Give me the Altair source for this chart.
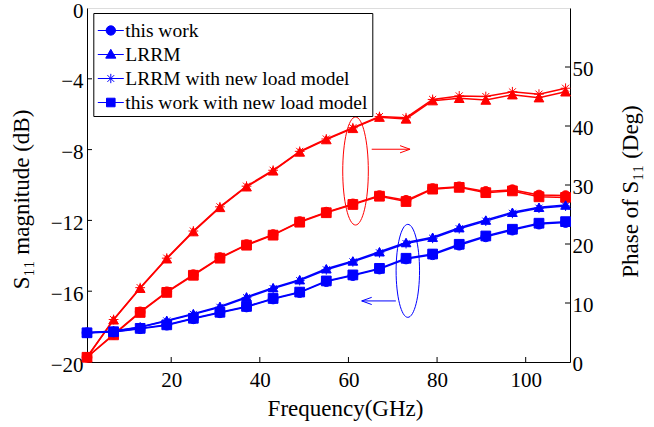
import altair as alt
import pandas as pd

# ---------------- data ----------------
freq = [1, 7, 13, 19, 25, 31, 37, 43, 49, 55, 61, 67, 73, 79, 85, 91, 97, 103, 109]
series_names = ["this work", "LRRM", "LRRM with new load model", "this work with new load model"]

# S11 magnitude (dB) - left axis (blue)
mag_this_work = [-18.35, -18.30, -18.12, -17.92, -17.56, -17.22, -16.89, -16.44, -16.08, -15.46,
                 -15.12, -14.75, -14.18, -13.94, -13.40, -12.93, -12.55, -12.21, -12.12]
mag_lrrm = [-18.35, -18.25, -18.02, -17.65, -17.27, -16.86, -16.32, -15.80, -15.35, -14.73,
            -14.29, -13.77, -13.25, -12.95, -12.41, -11.98, -11.54, -11.26, -11.13]
mag_lrrm_new = [-18.35, -18.26, -18.04, -17.68, -17.31, -16.91, -16.37, -15.85, -15.40, -14.79,
                -14.34, -13.83, -13.31, -13.01, -12.47, -12.04, -11.60, -11.31, -11.19]
mag_this_work_new = [-18.35, -18.29, -18.10, -17.90, -17.53, -17.19, -16.86, -16.41, -16.05, -15.42,
                     -15.08, -14.71, -14.14, -13.90, -13.35, -12.88, -12.50, -12.16, -12.07]

# Phase of S11 (deg) - right axis (red)
ph_this_work = [0.8, 4.7, 8.5, 11.9, 14.8, 17.7, 19.9, 21.6, 23.8, 25.4,
                26.8, 28.2, 27.4, 29.4, 29.7, 28.9, 29.2, 28.3, 28.2]
ph_lrrm = [0.8, 7.15, 12.5, 17.5, 22.1, 26.2, 29.7, 32.4, 35.6, 37.7,
           39.6, 41.5, 41.2, 44.3, 44.7, 44.4, 45.3, 44.8, 45.8]
ph_lrrm_new = [0.8, 7.2, 12.6, 17.6, 22.2, 26.3, 29.8, 32.5, 35.7, 37.8,
               39.7, 41.6, 41.4, 44.5, 45.1, 45.0, 45.8, 45.4, 46.4]
ph_this_work_new = [0.8, 4.6, 8.4, 11.8, 14.7, 17.6, 19.8, 21.5, 23.7, 25.3,
                    26.7, 28.1, 27.2, 29.3, 29.6, 28.7, 29.0, 28.0, 27.9]

x_ticks = [20, 40, 60, 80, 100]
left_ticks = [-20, -16, -12, -8, -4, 0]
right_ticks = [0, 10, 20, 30, 40, 50]

# annotations (data coordinates on the magnitude axis)
ellipse_f = [61.6, 73.4]
ellipse_v = [-9.21, -14.85]
red_arrow_f = [65.25, 73.9]
red_arrow_v = -7.98
blue_arrow_f = [70.7, 63.0]
blue_arrow_v = -16.55

# ---------------- tables ----------------
mag_lists = [mag_this_work, mag_lrrm, mag_lrrm_new, mag_this_work_new]
ph_lists = [ph_this_work, ph_lrrm, ph_lrrm_new, ph_this_work_new]
mag_df = pd.DataFrame([
    {"f": f, "v": v, "series": s, "k": i}
    for i, (s, vals) in enumerate(zip(series_names, mag_lists))
    for f, v in zip(freq, vals)
])
ph_df = pd.DataFrame([
    {"f": f, "p": v, "series": s, "k": i}
    for i, (s, vals) in enumerate(zip(series_names, ph_lists))
    for f, v in zip(freq, vals)
])

FONT = "Liberation Serif"
BLUE = "#0000ff"
RED = "#ff0000"

ASTER = "M -1 0 L 1 0 M 0 -1 L 0 1 M -0.72 -0.72 L 0.72 0.72 M -0.72 0.72 L 0.72 -0.72"
point_shapes = ["circle", "triangle-up", ASTER, "square"]
legend_shapes = [
    "M -1 0 L 1 0 M 0.36 0 A 0.36 0.36 0 1 1 -0.36 0 A 0.36 0.36 0 1 1 0.36 0 Z",
    "M -1 0 L 1 0 M 0 -0.40 L 0.39 0.28 L -0.39 0.28 Z",
    "M -1 0 L 1 0 M 0 -0.36 L 0 0.36 M -0.26 -0.26 L 0.26 0.26 M -0.26 0.26 L 0.26 -0.26",
    "M -1 0 L 1 0 M -0.33 -0.33 L 0.33 -0.33 L 0.33 0.33 L -0.33 0.33 Z",
]

x_scale = alt.Scale(domain=[1, 110], nice=False, zero=False)
x_enc = alt.X("f:Q", scale=x_scale,
              axis=alt.Axis(values=x_ticks, ticks=False, grid=False, title="Frequency(GHz)",
                            labelFont=FONT, labelFontSize=21, labelColor="black", labelPadding=7,
                            titleFont=FONT, titleFontSize=23, titleFontWeight="normal",
                            titleColor="black", titleX=258, titleY=46, titleBaseline="middle",
                            domainColor="black", domainWidth=1))
y_left = alt.Y("v:Q", scale=alt.Scale(domain=[-20, 0], nice=False, zero=False),
               axis=alt.Axis(orient="left", values=left_ticks, ticks=False, grid=False,
                             title="S₁₁ magnitude (dB)", labelFont=FONT, labelFontSize=21,
                             labelColor="black", labelPadding=4, labelOffset=3,
                             titleFont=FONT, titleFontSize=23, titleFontWeight="normal",
                             titleColor="black", titleAngle=270, titleX=-66, titleY=191,
                             titleBaseline="middle", titleAlign="center",
                             domainColor="black", domainWidth=1))
y_right = alt.Y("p:Q", scale=alt.Scale(domain=[0, 60], nice=False, zero=False),
                axis=alt.Axis(orient="right", values=right_ticks, ticks=False, grid=False,
                              title="Phase of S₁₁ (Deg)", labelFont=FONT, labelFontSize=21,
                              labelColor="black", labelPadding=2, labelOffset=2,
                              titleFont=FONT, titleFontSize=23, titleFontWeight="normal",
                              titleColor="black", titleAngle=270, titleX=60, titleY=183,
                              titleBaseline="middle", titleAlign="center",
                              domainColor="black", domainWidth=1))

shape_scale = alt.Scale(domain=series_names, range=point_shapes)

# ---------------- blue (magnitude) group ----------------
blue_lines = alt.Chart(mag_df).mark_line(color=BLUE, strokeWidth=1.5).encode(
    x=x_enc, y=y_left, detail="series:N", order="f:Q")
blue_points = alt.Chart(mag_df).mark_point(filled=True, color=BLUE, stroke=BLUE,
                                           strokeWidth=1, size=95, opacity=1).encode(
    x=x_enc, y=y_left, shape=alt.Shape("series:N", scale=shape_scale, legend=None))

legend_layer = alt.Chart(mag_df).transform_filter("datum.f < -1000").mark_point(
    filled=False, fill=BLUE, fillOpacity=1, stroke=BLUE, strokeOpacity=1, strokeWidth=1,
    size=676, opacity=1).encode(
    x=x_enc, y=y_left,
    shape=alt.Shape("series:N",
                    scale=alt.Scale(domain=series_names, range=legend_shapes),
                    legend=alt.Legend(title=None, orient="none", legendX=6.3, legendY=5,
                                      symbolSize=676, symbolStrokeWidth=1,
                                      labelFont=FONT, labelFontSize=19.5, labelColor="black",
                                      labelOffset=1, labelLimit=500,
                                      strokeColor="black", fillColor="white",
                                      padding=4, rowPadding=1)))

left_tick_df = pd.DataFrame({"v": left_ticks[1:-1]})
left_tick_rules = alt.Chart(left_tick_df).mark_rule(color="black", strokeWidth=1).encode(
    y=y_left, x=alt.value(0), x2=alt.value(5))
x_tick_df = pd.DataFrame({"f": x_ticks})
x_tick_rules = alt.Chart(x_tick_df).mark_rule(color="black", strokeWidth=1).encode(
    x=x_enc, y=alt.value(354), y2=alt.value(349))

ell_df = pd.DataFrame({"f": ellipse_f, "v": ellipse_v})
RED_ELL = ("M 0.237 0 C 0.237 0.552 0.131 1 0 1 C -0.131 1 -0.237 0.552 -0.237 0 "
           "C -0.237 -0.552 -0.131 -1 0 -1 C 0.131 -1 0.237 -0.552 0.237 0 Z")
BLUE_ELL = ("M 0.252 0 C 0.252 0.552 0.139 1 0 1 C -0.139 1 -0.252 0.552 -0.252 0 "
            "C -0.252 -0.552 -0.139 -1 0 -1 C 0.139 -1 0.252 -0.552 0.252 0 Z")
red_ellipse = alt.Chart(ell_df.iloc[[0]]).mark_point(
    shape=RED_ELL, size=11664, filled=False, color=RED, strokeWidth=1, opacity=1).encode(
    x=x_enc, y=y_left)
blue_ellipse = alt.Chart(ell_df.iloc[[1]]).mark_point(
    shape=BLUE_ELL, size=8649, filled=False, color=BLUE, strokeWidth=1, opacity=1).encode(
    x=x_enc, y=y_left)

red_arrow_df = pd.DataFrame({"f": [red_arrow_f[0]], "f2": [red_arrow_f[1]], "v": [red_arrow_v]})
blue_arrow_df = pd.DataFrame({"f": [blue_arrow_f[0]], "f2": [blue_arrow_f[1]], "v": [blue_arrow_v]})
red_arrow = alt.Chart(red_arrow_df).mark_rule(color=RED, strokeWidth=1).encode(
    x=x_enc, x2="f2:Q", y=y_left)
blue_arrow = alt.Chart(blue_arrow_df).mark_rule(color=BLUE, strokeWidth=1).encode(
    x=x_enc, x2="f2:Q", y=y_left)
red_head = alt.Chart(red_arrow_df).mark_point(
    shape="M -1 -0.36 L 0 0 L -1 0.36", size=400, filled=False, color=RED,
    strokeWidth=1, opacity=1).encode(x=alt.X("f2:Q", scale=x_scale), y=y_left)
blue_head = alt.Chart(blue_arrow_df).mark_point(
    shape="M 1 -0.36 L 0 0 L 1 0.36", size=400, filled=False, color=BLUE,
    strokeWidth=1, opacity=1).encode(x=alt.X("f2:Q", scale=x_scale), y=y_left)

blue_group = alt.layer(
    left_tick_rules, x_tick_rules, blue_lines, blue_points,
    red_ellipse, blue_ellipse, red_arrow, blue_arrow, red_head, blue_head, legend_layer
).resolve_scale(shape="independent")

# ---------------- red (phase) group ----------------
red_lines = alt.Chart(ph_df).mark_line(color=RED, strokeWidth=1.5).encode(
    x=x_enc, y=y_right, detail="series:N", order="f:Q")
red_points = alt.Chart(ph_df).mark_point(filled=True, color=RED, stroke=RED,
                                         strokeWidth=1, size=95, opacity=1).encode(
    x=x_enc, y=y_right, shape=alt.Shape("series:N", scale=shape_scale, legend=None))
right_tick_df = pd.DataFrame({"p": right_ticks[1:]})
right_tick_rules = alt.Chart(right_tick_df).mark_rule(color="black", strokeWidth=1).encode(
    y=y_right, x=alt.value(478), x2=alt.value(483))
red_group = alt.layer(right_tick_rules, red_lines, red_points)

chart = alt.layer(red_group, blue_group).resolve_scale(
    y="independent", shape="independent"
).properties(
    width=483, height=354,
    autosize=alt.AutoSizeParams(type="none"),
    padding={"left": 87, "top": 8, "right": 84, "bottom": 65},
).configure_view(stroke="black", strokeWidth=1).configure(background="white")

chart.save("out.html", embed_options={"renderer": "svg", "actions": False})
